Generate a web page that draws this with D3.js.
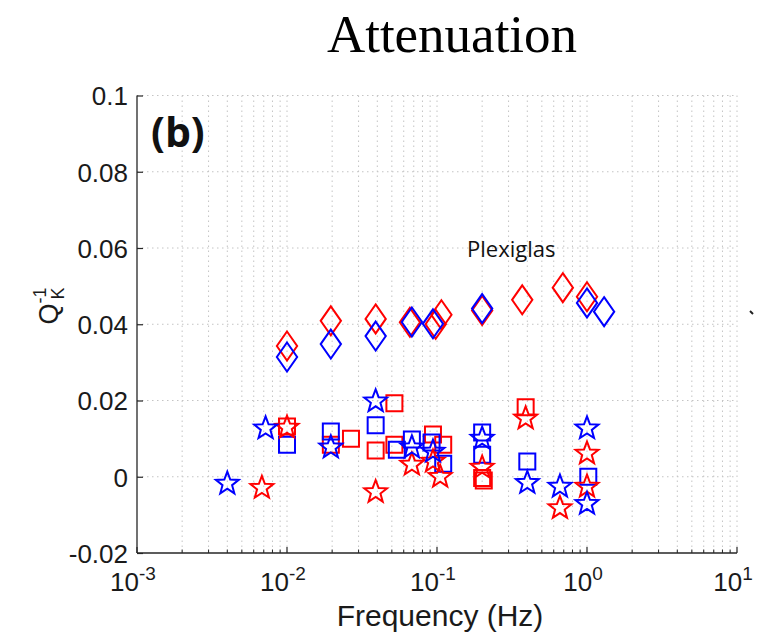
<!DOCTYPE html>
<html>
<head>
<meta charset="utf-8">
<script src="https://cdn.jsdelivr.net/npm/d3@7"></script>
<style>
  html, body { margin: 0; padding: 0; background: #fff; }
  svg { display: block; }
</style>
</head>
<body>
<svg id="chart" width="759" height="639"></svg>
<script>
// Bulk attenuation Q_K^-1 of Plexiglas versus frequency (two sample sets: red and blue)
const redDiamondF = [0.01, 0.0196, 0.039, 0.066, 0.098, 0.107, 0.2, 0.37, 0.69, 1.0];
const redDiamondQ = [0.0343, 0.0409, 0.0414, 0.0405, 0.0400, 0.0425, 0.0436, 0.0464, 0.0496, 0.0472];

const blueDiamondF = [0.01, 0.0196, 0.039, 0.068, 0.094, 0.2, 1.0, 1.3];
const blueDiamondQ = [0.0314, 0.0348, 0.0369, 0.0406, 0.0401, 0.0441, 0.0456, 0.0433];

const redSquareF = [0.01, 0.0196, 0.0267, 0.039, 0.052, 0.052, 0.094, 0.11, 0.2, 0.205, 0.39];
const redSquareQ = [0.0132, 0.0084, 0.0100, 0.0069, 0.0193, 0.0084, 0.0111, 0.0084, -0.0003, -0.0010, 0.0182];

const blueSquareF = [0.01, 0.0196, 0.039, 0.054, 0.068, 0.092, 0.11, 0.2, 0.2, 0.4, 1.02];
const blueSquareQ = [0.0084, 0.0119, 0.0135, 0.0071, 0.0098, 0.0090, 0.0034, 0.0116, 0.0058, 0.0040, 0.0000];

const redStarF = [0.0068, 0.01, 0.039, 0.068, 0.094, 0.105, 0.2, 0.39, 0.66, 1.0, 1.0];
const redStarQ = [-0.0029, 0.0129, -0.0040, 0.0032, 0.0040, 0.0000, 0.0024, 0.0153, -0.0082, 0.0061, -0.0026];

const blueStarF = [0.004, 0.0072, 0.0196, 0.039, 0.068, 0.094, 0.2, 0.4, 0.66, 1.0, 1.0];
const blueStarQ = [-0.0018, 0.0127, 0.0077, 0.0198, 0.0077, 0.0066, 0.0100, -0.0016, -0.0026, 0.0127, -0.0071];

const yTicks = [-0.02, 0, 0.02, 0.04, 0.06, 0.08, 0.1];
const yTickLabels = ["-0.02", "0", "0.02", "0.04", "0.06", "0.08", "0.1"];
const xTicks = [1e-3, 1e-2, 1e-1, 1e0, 1e1];
const xTickExponents = ["-3", "-2", "-1", "0", "1"];

const svg = d3.select("#chart");
const plotLeft = 137, plotRight = 737, plotTop = 95.5, plotBottom = 553;

const x = d3.scaleLog().domain([1e-3, 1e1]).range([plotLeft, plotRight]);
const y = d3.scaleLinear().domain([-0.02, 0.1]).range([plotBottom, plotTop]);

// minor log positions for grid and ticks
const minorX = [];
for (let e = -3; e < 1; e++) {
  for (let m = 2; m <= 9; m++) minorX.push(m * Math.pow(10, e));
}

const grid = svg.append("g").attr("stroke", "#c4c4c4").attr("stroke-width", 1)
  .attr("stroke-dasharray", "1.5,3.5").attr("fill", "none");
grid.selectAll("line.vx").data(minorX.concat(xTicks.slice(1))).join("line")
  .attr("x1", d => x(d)).attr("x2", d => x(d))
  .attr("y1", plotTop).attr("y2", plotBottom);
grid.selectAll("line.hy").data(yTicks.slice(1)).join("line")
  .attr("x1", plotLeft).attr("x2", plotRight)
  .attr("y1", d => y(d)).attr("y2", d => y(d));

// axes
const axisColor = "#262626";
const yAxis = d3.axisLeft(y).tickValues(yTicks).tickSize(-6).tickPadding(9)
  .tickFormat((d, i) => yTickLabels[i]);
const gy = svg.append("g").attr("transform", `translate(${plotLeft},0)`).call(yAxis);
gy.select(".domain").attr("stroke", axisColor).attr("stroke-width", 1.3).attr("d", `M0,${plotTop}V${plotBottom}`);
gy.selectAll(".tick line").attr("stroke", axisColor).attr("stroke-width", 1.2);
gy.selectAll(".tick text").attr("fill", "#1a1a1a")
  .style("font-family", "'Liberation Sans', Arial, sans-serif").style("font-size", "26px")
  .attr("dy", "0.36em");

const gx = svg.append("g").attr("transform", `translate(0,${plotBottom})`);
gx.append("path").attr("d", `M${plotLeft},0H${plotRight}`).attr("stroke", axisColor).attr("stroke-width", 1.3);
gx.selectAll("line.major").data(xTicks).join("line")
  .attr("x1", d => x(d)).attr("x2", d => x(d)).attr("y1", 0).attr("y2", -6)
  .attr("stroke", axisColor).attr("stroke-width", 1.2);
gx.selectAll("line.minor").data(minorX).join("line")
  .attr("x1", d => x(d)).attr("x2", d => x(d)).attr("y1", 0).attr("y2", -3.5)
  .attr("stroke", axisColor).attr("stroke-width", 1);
const xt = gx.selectAll("text.xt").data(xTicks).join("text")
  .attr("x", d => x(d) - 4).attr("y", 38)
  .attr("text-anchor", "middle").attr("fill", "#1a1a1a")
  .style("font-family", "'Liberation Sans', Arial, sans-serif").style("font-size", "26px");
xt.append("tspan").text("10");
xt.append("tspan").attr("dy", "-11").style("font-size", "19px").text((d, i) => xTickExponents[i]);

// axis titles
svg.append("text").attr("x", 440).attr("y", 626).attr("text-anchor", "middle")
  .attr("fill", "#1a1a1a")
  .style("font-family", "'Liberation Sans', Arial, sans-serif").style("font-size", "30px")
  .text("Frequency (Hz)");

const yl = svg.append("text").attr("transform", "translate(58,306) rotate(-90)")
  .attr("text-anchor", "middle").attr("fill", "#1a1a1a")
  .style("font-family", "'Liberation Sans', Arial, sans-serif").style("font-size", "27px");
yl.append("tspan").text("Q");
yl.append("tspan").attr("dy", "-12").style("font-size", "18px").text("-1");
yl.append("tspan").attr("dx", "-12").attr("dy", "18").style("font-size", "18px").text("K");

// title and annotations
svg.append("text").attr("x", 452).attr("y", 52).attr("text-anchor", "middle")
  .attr("fill", "#000")
  .style("font-family", "'Liberation Serif', 'Times New Roman', serif").style("font-size", "53px")
  .text("Attenuation");

svg.append("text").attr("x", 151).attr("y", 147).attr("fill", "#111")
  .style("font-family", "'Open Sans', 'Liberation Sans', sans-serif").style("font-size", "41px")
  .style("font-weight", "bold").text("(b)");

svg.append("text").attr("x", 467).attr("y", 257).attr("fill", "#111")
  .style("font-family", "'Open Sans', 'Liberation Sans', sans-serif").style("font-size", "22px")
  .text("Plexiglas");

svg.append("path").attr("d", "M750,311 l3,3").attr("stroke", "#222").attr("stroke-width", 2);

// marker shapes; size is the squared half-extent
const diamondType = {
  draw(ctx, size) {
    const h = Math.sqrt(size), w = h * 0.7;
    ctx.moveTo(0, -h); ctx.lineTo(w, 0); ctx.lineTo(0, h); ctx.lineTo(-w, 0); ctx.closePath();
  }
};
const squareType = {
  draw(ctx, size) {
    const s = Math.sqrt(size);
    ctx.rect(-s, -s, 2 * s, 2 * s);
  }
};
const starType = {
  draw(ctx, size) {
    const R = Math.sqrt(size), r = R * 0.42;
    for (let i = 0; i < 10; i++) {
      const rad = i % 2 === 0 ? R : r;
      const a = -Math.PI / 2 + i * Math.PI / 5;
      const px = rad * Math.cos(a), py = rad * Math.sin(a);
      if (i === 0) ctx.moveTo(px, py); else ctx.lineTo(px, py);
    }
    ctx.closePath();
  }
};

function drawSeries(fs, qs, type, size, color) {
  const pts = fs.map((f, i) => ({ f, q: qs[i] }));
  svg.append("g").selectAll("path").data(pts).join("path")
    .attr("transform", d => `translate(${x(d.f)},${y(d.q)})`)
    .attr("d", d3.symbol().type(type).size(size)())
    .attr("fill", "none").attr("stroke", color).attr("stroke-width", 2)
    .attr("stroke-linejoin", "miter");
}

const RED = "#ff0000", BLUE = "#0000ff";
drawSeries(redDiamondF, redDiamondQ, diamondType, 14.5 * 14.5, RED);
drawSeries(blueDiamondF, blueDiamondQ, diamondType, 14.5 * 14.5, BLUE);
drawSeries(redSquareF, redSquareQ, squareType, 8 * 8, RED);
drawSeries(blueSquareF, blueSquareQ, squareType, 8 * 8, BLUE);
drawSeries(redStarF, redStarQ, starType, 12 * 12, RED);
drawSeries(blueStarF, blueStarQ, starType, 12 * 12, BLUE);
</script>
</body>
</html>
